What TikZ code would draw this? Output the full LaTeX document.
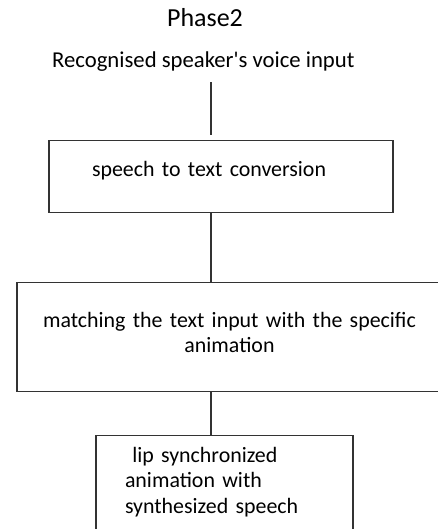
\documentclass[tikz,border=0pt]{standalone}
\usepackage{fontspec}
\setmainfont{Carlito}
\usepackage{tikz}

\begin{document}
\begin{tikzpicture}[
		x=1pt,y=-1pt,
		every node/.style={inner sep=0pt,font=\fontsize{22.7}{25.5}\selectfont},
		stage/.style={draw=black!80,line width=1.1pt,rectangle,anchor=north,inner ysep=0pt,
			font=\fontsize{21.9}{25.5}\selectfont},
		link/.style={draw=black!80,line width=1.1pt}
	]
	\fill[white] (0,0) rectangle (438,529);
	\clip (0,0) rectangle (438,529);

	\draw
		node[anchor=base,font=\fontsize{26}{30}\selectfont] (title) at (205,27) {Phase2}
		node[anchor=base,text depth=14pt] (input) at (203.3,68) {Recognised speaker\textquotesingle s voice input}

		node[stage,align=left,inner xsep=43pt,text width=258pt,
			text height=36pt,text depth=36pt]   (conv)    at (221,140)   {speech to text conversion}
		node[stage,align=center,inner xsep=6pt,text width=413pt,
			text height=44.7pt,text depth=64.3pt] (match)   at (229.5,282) {matching the text input with the specific\\animation}
		node[stage,align=left,inner xsep=29pt,text width=199pt,
			text height=26.7pt,text depth=90pt]  (lipsync) at (224.5,435) {\ lip synchronized\\animation with\\synthesized speech}
	;

	\coordinate (spine) at (211,0);
	\draw[link,shorten >=5pt] (input.south -| spine) -- (conv.north -| spine);
	\draw[link] (conv.south -| spine)  -- (match.north -| spine);
	\draw[link] (match.south -| spine) -- (lipsync.north -| spine);
\end{tikzpicture}
\end{document}
